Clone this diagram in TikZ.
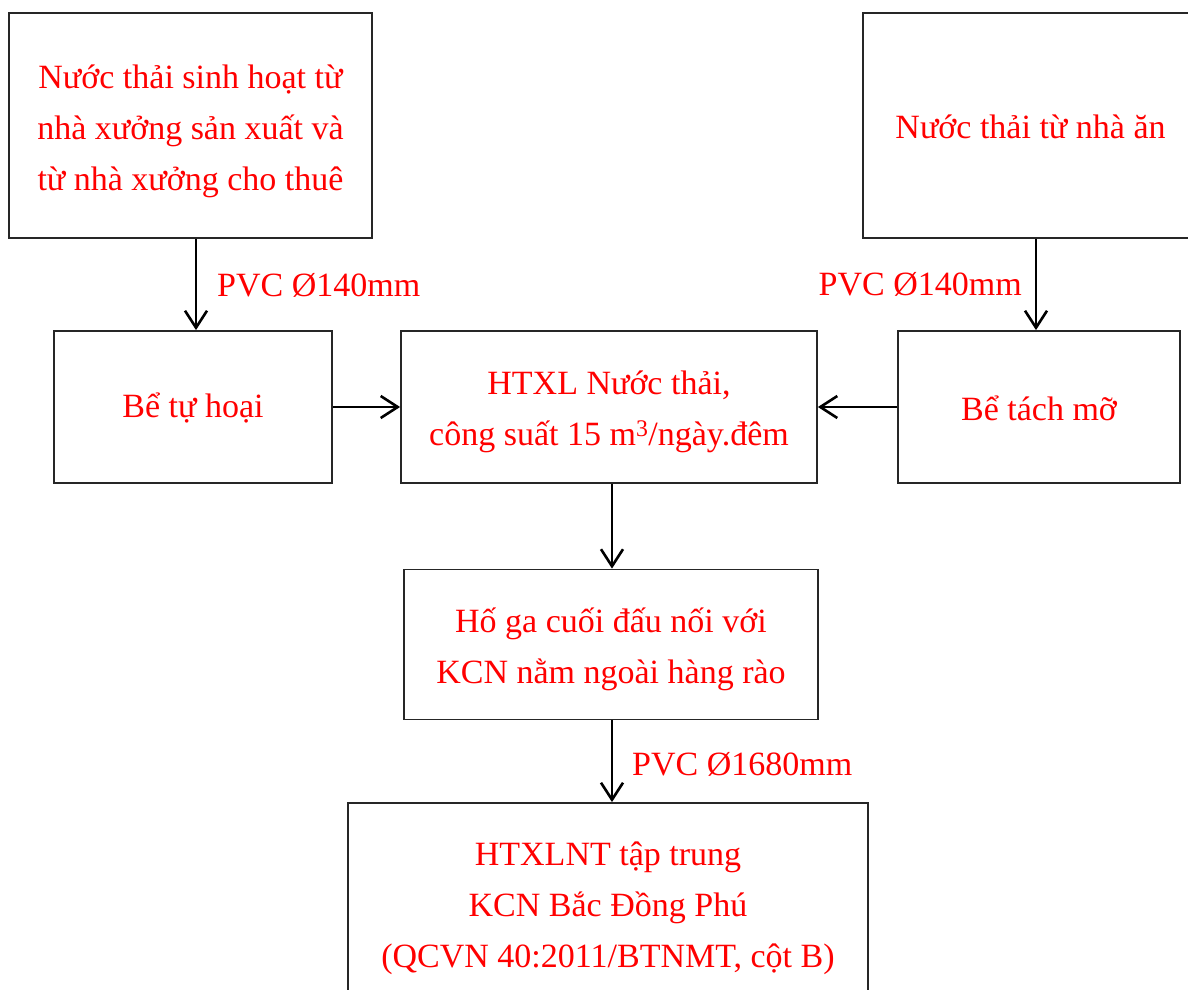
\documentclass[tikz,border=0pt]{standalone}
\usepackage{fontspec}
\setmainfont{Liberation Serif}
\usetikzlibrary{arrows.meta}

\tikzset{
  flowbox/.style={draw=black!85, line width=1.8pt, rectangle, inner sep=0pt},
  boxtext/.style={text=red, align=center, inner sep=0pt,
    font=\fontsize{34}{51}\selectfont},
  flowarrow/.style={draw=black, line width=2.6pt,
    -{Straight Barb[length=17pt, width=22pt, line width=2.6pt]}},
  pipelabel/.style={text=red, inner sep=0pt, font=\fontsize{34}{51}\selectfont}
}

\begin{document}
\begin{tikzpicture}[x=1pt, y=-1pt]
  \useasboundingbox (0,0) rectangle (1188,990);
  \fill[white] (0,0) rectangle (1188,990);
  \clip (0,0) rectangle (1188,990);

  % sources
  \node[flowbox, minimum width=363pt, minimum height=225pt,
    label={[boxtext, name=sinhhoat-t, yshift=-6pt]center:Nước thải sinh hoạt từ\\nhà xưởng sản xuất và\\từ nhà xưởng cho thuê}]
    (sinhhoat) at (190.5,125.5) {};
  \node[flowbox, minimum width=335pt, minimum height=225pt,
    label={[boxtext, name=nhaan-t, yshift=-1pt]center:Nước thải từ nhà ăn}]
    (nhaan) at (1030.5,125.5) {};

  % pre-treatment and treatment
  \node[flowbox, minimum width=278pt, minimum height=152pt,
    label={[boxtext, name=tuhoai-t, yshift=-1pt]center:Bể tự hoại}]
    (tuhoai) at (193,407) {};
  \node[flowbox, minimum width=416pt, minimum height=152pt,
    label={[boxtext, name=htxl-t, yshift=-5pt]center:HTXL Nước thải,\\công suất 15 m\textsuperscript{3}/ngày.đêm}]
    (htxl) at (609,407) {};
  \node[flowbox, minimum width=282pt, minimum height=152pt,
    label={[boxtext, name=tachmo-t, yshift=-1pt]center:Bể tách mỡ}]
    (tachmo) at (1039,407) {};

  % discharge
  \node[flowbox, minimum width=414pt, minimum height=150pt,
    label={[boxtext, name=hoga-t, yshift=-5pt]center:Hố ga cuối đấu nối với\\KCN nằm ngoài hàng rào}]
    (hoga) at (611,644.5) {};
  \node[flowbox, minimum width=520pt, minimum height=206pt,
    label={[boxtext, name=taptrung-t, yshift=-2pt]center:HTXLNT tập trung\\KCN Bắc Đồng Phú\\(QCVN 40:2011/BTNMT, cột B)}]
    (taptrung) at (608,906) {};

  % connectors
  \draw[flowarrow] ([xshift=3pt]tuhoai.north |- sinhhoat.south) -- ([xshift=3pt]tuhoai.north);
  \draw[flowarrow] ([xshift=-3pt]tachmo.north |- nhaan.south) -- ([xshift=-3pt]tachmo.north);
  \draw[flowarrow] (tuhoai.east) -- (htxl.west);
  \draw[flowarrow] (tachmo.west) -- (htxl.east);
  \draw[flowarrow] ([xshift=1pt]hoga.north |- htxl.south) -- ([xshift=1pt]hoga.north);
  \draw[flowarrow] ([xshift=1pt]hoga.south) -- ([xshift=1pt]hoga.south |- taptrung.north);

  % pipe labels
  \node[pipelabel, anchor=base west] (pvcleft) at (217,296) {PVC Ø140mm};
  \node[pipelabel, anchor=base east] (pvcright) at (1022,295) {PVC Ø140mm};
  \node[pipelabel, anchor=base west] (pvcbottom) at (632,775) {PVC Ø1680mm};
\end{tikzpicture}
\end{document}
